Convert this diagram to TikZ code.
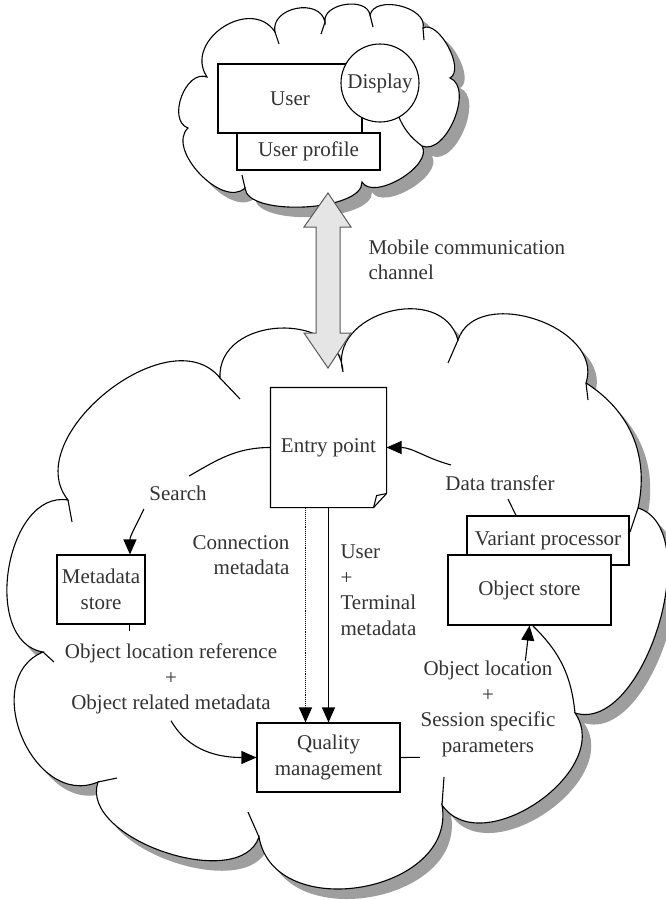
\documentclass[tikz,border=0pt]{standalone}
\usepackage{fontspec}
\setmainfont{Liberation Serif}
\usepackage{tikz}
\usetikzlibrary{arrows.meta,calc}
\tikzset{>={Triangle[length=15pt,width=13pt]}}
\definecolor{shadowgray}{gray}{0.62}
\definecolor{pipefill}{gray}{0.9}
\definecolor{inkgray}{gray}{0.2}
\tikzset{
  txt/.style={font=\fontsize{21}{25.5}\selectfont, text=inkgray, inner sep=0pt},
  box/.style={txt, draw, fill=white, line width=1.1pt, align=center},
  lbl/.style={txt, align=center},
}
% cloud outlines, pixel coordinates
\newcommand{\topcloud}{(207,77) to[bend left=90,looseness=1.37] (275,32)
  to[bend left=90,looseness=1.27] (325,22) to[bend left=90,looseness=1.06] (370,15)
  to[bend left=90,looseness=1] (423,28) to[bend left=90,looseness=0.8] (450,78)
  to[bend left=90,looseness=0.91] (422,146) to[bend left=90,looseness=0.83] (362,182)
  to[bend left=90,looseness=0.64] (245,188)
  to[bend left=90,looseness=0.95] (188,128) to[bend left=90,looseness=1.07] (207,77) -- cycle}
\newcommand{\maincloud}{(220,378) to[bend left=90,looseness=1.3] (343,372)
  to[bend left=90,looseness=1.31] (458,340) to[bend left=90,looseness=1.12] (586,383)
  to[bend left=35,looseness=1] (638,508) to[bend left=90,looseness=0.86] (575,713)
  to[bend left=90,looseness=1.1] (442,805) to[bend left=90,looseness=1.23] (259,837)
  to[bend left=90,looseness=0.9] (98,782) to[bend left=90,looseness=1.27] (43,652)
  to[bend left=90,looseness=1.05] (68,500) to[bend left=90,looseness=1.05] (220,378) -- cycle}

\begin{document}
\begin{tikzpicture}[x=1pt,y=-1pt,line width=1.1pt]
  \useasboundingbox (0,0) rectangle (666,900);

  % Clouds
  \fill[shadowgray,shift={(10,10)}] \topcloud;
  \filldraw[fill=white] \topcloud;
  \draw (275,32) -- (279,44) (325,22) -- (321,34) (370,15) -- (373,27)
        (423,28) -- (424,40) (245,188) -- (242,175);
  \draw (422,146) to[bend left=15] (398,115);
  \fill[shadowgray,shift={(9,10)}] \maincloud;
  \filldraw[fill=white] \maincloud;
  \draw (220,378) -- (240,399) (68,500) -- (72,522) (458,340) -- (448,363)
        (586,383) -- (588,400) (638,508) -- (630,532) (442,805) -- (444,777)
        (259,837) -- (248,812) (98,782) -- (117,778) (43,652) -- (54,662);
  \draw (575,713) to[bend right=20] (533,626);

  % Mobile channel
  \draw[fill=pipefill, draw=gray!70!black, line width=1pt]
    (328,193) -- (351,227) -- (340,227) -- (340,333) -- (351,333) -- (328,368)
    -- (304,333) -- (316,333) -- (316,227) -- (304,227) -- cycle;
  \node[lbl, anchor=west, align=left] (chan) at (368,260) {Mobile communication\\channel};

  % User side
  \node[box, minimum width=143pt, minimum height=37pt] (prof) at (308.5,151.5) {User profile};
  \node[box, minimum width=144pt, minimum height=69pt] (user) at (290,98.5) {User};
  \node[box, circle, minimum size=78pt] (disp) at (380,83) {Display};

  % Server side
  \node[txt, minimum width=115pt, minimum height=119pt] (ep) at (328.5,447.5) {Entry point};
  \draw (ep.north west) -- (ep.north east) -- ($(ep.south east)+(0,-14)$)
        -- ($(ep.south east)+(-13,0)$) -- (ep.south west) -- cycle;
  \draw ($(ep.south east)+(-13,0)$) -- ($(ep.south east)+(-10,-12)$) -- ($(ep.south east)+(0,-14)$);
  \node[box, minimum width=88pt, minimum height=69pt] (ms) at (101,589.5) {Metadata\\store};
  \node[box, minimum width=143pt, minimum height=69pt] (qm) at (328.5,757.5) {Quality\\management};
  \node[box, minimum width=162pt, minimum height=49pt] (vp) at (548,540.5) {Variant processor};
  \node[box, minimum width=163pt, minimum height=70pt] (os) at (529.5,590) {Object store};

  % Labels
  \node[lbl] (search) at (178,493) {Search};
  \node[lbl, anchor=east, align=right] (conn) at (290,555) {Connection\\metadata};
  \node[lbl, anchor=west, align=left] (utm) at (340,590) {User\\+\\Terminal\\metadata};
  \node[lbl] (objref) at (171,679) {Object location reference\\+\\Object related metadata};
  \node[lbl] (objloc) at (488,709) {Object location\\+\\Session specific\\parameters};
  \node[lbl] (dt) at (500,483) {Data transfer};

  % Links
  \draw (ep.west) to[out=180,in=30] ($(search.north)+(11,-9)$);
  \draw[->] ($(search.south west)+(-5,8)$) to[out=-115,in=90] ($(ms.north)!0.65!(ms.north east)$);
  \draw[->] ($(dt.north west)+(6,-10)$) to[out=165,in=0] (ep.east);
  \draw ($(dt.south)+(8,8)$) -- ($(vp.north)+(-32,0)$);
  \draw[densely dotted,->] ([xshift=-23pt]ep.south) -- ([xshift=-23pt]qm.north);
  \draw[->] (ep.south) -- (qm.north);
  \coordinate (mdl) at ($(ms.south)!0.64!(ms.south east)$);
  \draw (mdl) -- ($(mdl |- objref.north)+(0,-12)$);
  \draw[->] ($(objref.south)+(0,6)$) to[out=-60,in=180] (qm.west);
  \draw (qm.east) -- (objloc.south west);
  \draw[->] ($(objloc.north east)!0.45!(objloc.north)$) -- (os.south);
\end{tikzpicture}
\end{document}
